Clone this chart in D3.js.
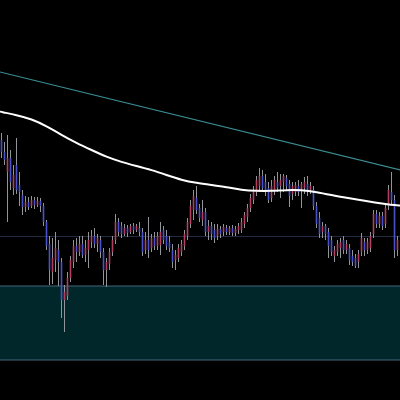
<!DOCTYPE html>
<html><head><meta charset="utf-8">
<script src="https://cdn.jsdelivr.net/npm/d3@7"></script>
<style>html,body{margin:0;padding:0;background:#000;}svg{display:block;}</style>
</head><body>
<svg id="c" width="400" height="400"></svg>
<script>
// OHLC candle data (price units)
const open  = [260,248,228,242,212,235,215,205,193,198,194,200,195,199,194,178,156,128,140,150,138,100,104,122,138,154,148,156,145,150,158,164,156,160,148,130,136,148,160,178,174,166,172,168,174,170,172,168,150,160,152,162,154,155,170,164,158,150,140,142,148,154,164,176,190,202,192,180,188,168,174,170,164,171,168,172,168,172,167,170,170,176,183,192,200,208,214,224,218,212,202,210,218,214,218,222,216,206,208,214,210,212,216,210,210,194,182,168,174,168,160,144,148,152,160,150,152,144,142,138,148,158,150,152,166,186,176,184,176,194,208,200,150];
const high  = [267,258,265,250,235,262,228,210,204,203,204,203,203,202,197,180,164,162,168,160,142,115,128,144,160,162,164,164,160,168,170,172,166,164,152,142,152,164,186,182,178,176,175,176,177,176,178,172,168,183,166,168,168,178,174,170,164,156,150,156,160,170,182,200,210,214,196,200,192,180,178,176,176,174,176,175,174,175,174,177,182,188,196,206,214,224,232,230,226,218,220,224,228,226,226,225,220,218,218,220,218,223,224,218,214,198,188,178,176,172,164,154,160,162,164,160,156,150,146,150,167,162,162,168,190,190,188,188,196,215,228,205,164];
const low   = [242,235,178,210,205,206,194,185,188,190,192,191,193,188,174,150,115,116,128,114,82,68,100,118,132,138,144,142,138,132,152,152,148,142,115,113,130,144,156,164,162,164,163,166,166,168,164,144,146,142,148,150,150,145,156,150,148,132,130,138,144,150,160,172,180,186,178,174,164,160,160,157,160,162,164,165,165,164,164,166,167,172,178,188,196,204,208,208,204,197,198,205,208,202,208,210,193,200,204,204,192,206,204,206,190,172,162,162,160,142,144,138,144,142,146,146,135,134,132,132,144,144,146,148,162,172,172,170,172,190,195,142,144];
const close = [248,240,242,218,225,210,208,193,198,193,200,195,199,194,178,154,130,142,152,138,100,108,122,140,154,148,156,145,152,160,164,156,162,148,130,138,148,160,178,168,166,172,167,174,170,174,168,148,160,150,162,154,164,168,160,154,152,138,145,152,156,166,178,194,204,190,182,188,168,174,166,162,171,166,173,168,172,167,171,174,178,185,192,202,210,220,224,212,208,200,214,220,212,220,224,214,204,214,215,208,216,218,210,214,194,176,166,174,166,154,148,150,156,158,150,156,140,138,134,146,162,150,158,164,186,176,184,174,192,210,200,150,160];

// Moving average samples: candle index and value
const maIndex = [-0.5,0,5,10,15,20,25,30,35,40,45,50,55,60,65,70,75,80,85,90,95,100,105,110,115,120,125,130,133];
const maValue = [288.5,288,285,281,274,265,257,250,243,238,234,230,225,220,217,215,213,210,209,209,210,210,208,205,202,200,197,195,194.5];

// Descending trendline endpoints (candle index, price)
const trendIndex = [-0.5, 133];
const trendPrice = [328, 230];

// Horizontal level and demand zone (price)
const levelPrice = [164];
const zonePrice = [114, 40];

const n = close.length;
const svg = d3.select("#c");
const W = 400, H = 400;

const x = d3.scaleLinear().domain([0, n - 1]).range([1.5, 1.5 + 3 * (n - 1)]);
const y = d3.scaleLinear().domain([0, 400]).range([H, 0]);

svg.append("rect").attr("width", W).attr("height", H).attr("fill", "#000");

// zone
svg.append("rect")
  .attr("x", -1).attr("width", W + 2)
  .attr("y", y(zonePrice[0])).attr("height", y(zonePrice[1]) - y(zonePrice[0]))
  .attr("fill", "#02272a").attr("stroke", "#41677f").attr("stroke-width", 1);

// level
svg.selectAll("line.level").data(levelPrice).enter().append("line")
  .attr("x1", 0).attr("x2", W)
  .attr("y1", d => y(d) + 0.5).attr("y2", d => y(d) + 0.5)
  .attr("stroke", "#222b42").attr("stroke-width", 1);

const candles = d3.range(n).map(i => ({i, o: open[i], h: high[i], l: low[i], c: close[i]}));

const g = svg.append("g");
g.selectAll("line.wick").data(candles).enter().append("line")
  .attr("x1", d => x(d.i)).attr("x2", d => x(d.i))
  .attr("y1", d => y(d.h)).attr("y2", d => y(d.l))
  .attr("stroke", "#93939a").attr("stroke-width", 1);

g.selectAll("rect.body").data(candles).enter().append("rect")
  .attr("x", d => x(d.i) - 0.8).attr("width", 1.6)
  .attr("y", d => y(Math.max(d.o, d.c)))
  .attr("height", d => Math.max(1, Math.abs(y(d.o) - y(d.c))))
  .attr("fill", d => d.c >= d.o ? "#b0405e" : "#4a52c8");

// moving average
const maData = maIndex.map((idx, k) => ({i: idx, v: maValue[k]}));
svg.append("path").datum(maData)
  .attr("d", d3.line().x(d => x(d.i)).y(d => y(d.v)).curve(d3.curveBasis))
  .attr("fill", "none").attr("stroke", "#ffffff").attr("stroke-width", 2);

// trendline
const trData = trendIndex.map((idx, k) => ({i: idx, v: trendPrice[k]}));
svg.append("path").datum(trData)
  .attr("d", d3.line().x(d => x(d.i)).y(d => y(d.v)))
  .attr("fill", "none").attr("stroke", "#3b8e94").attr("stroke-width", 1.2);
</script>
</body></html>
